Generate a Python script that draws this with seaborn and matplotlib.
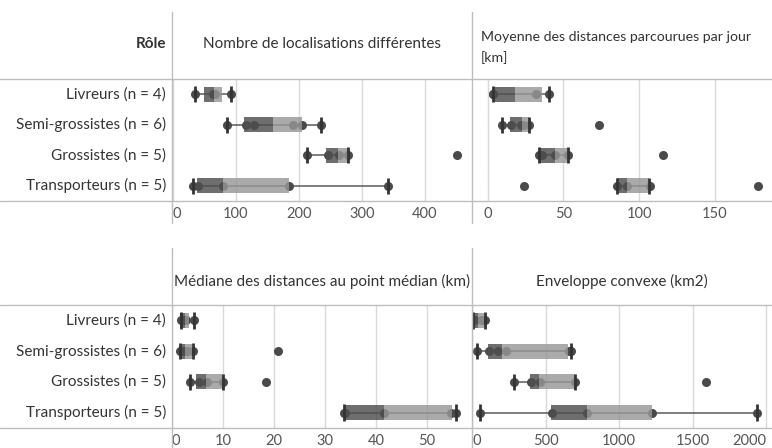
import numpy as np
import pandas as pd
import seaborn as sns
import matplotlib.pyplot as plt
import matplotlib.transforms as mtrans
from matplotlib.lines import Line2D

sns.set_theme(style="white")
plt.rcParams['font.family'] = ['Lato', 'DejaVu Sans']

# -------------------------------
# Data
# -------------------------------
roles = ["Livreurs (n = 4)", "Semi-grossistes (n = 6)", "Grossistes (n = 5)", "Transporteurs (n = 5)"]

# Nombre de localisations différentes
loc_points = [[35, 64, 67, 92], [86, 117, 129, 191, 205, 235], [213, 246, 264, 279, 451], [32, 41, 80, 184, 341]]
loc_lo = [35, 86, 213, 32]
loc_q1 = [50, 114, 243, 38]
loc_med = [66, 159, 263, 80]
loc_q3 = [79, 205, 278, 184]
loc_hi = [92, 235, 279, 341]

# Moyenne des distances parcourues par jour [km]
dist_points = [[3.4, 3.8, 32, 40.3], [9.5, 15.5, 22, 23.2, 27.6, 73.8], [34.2, 35.9, 44.3, 53.3, 116], [23.8, 85.7, 92.3, 107.3, 178.4]]
dist_lo = [3.4, 9.5, 34.2, 85.7]
dist_q1 = [3.6, 15, 34.8, 85.7]
dist_med = [17.9, 22.7, 44.3, 92.1]
dist_q3 = [35.9, 27.6, 53.1, 106.8]
dist_hi = [40.3, 27.6, 53.1, 106.8]

# Médiane des distances au point médian (km)
med_points = [[1.7, 2.3, 2.8, 4.3], [1.6, 1.8, 2.3, 2.9, 4.05, 20.7], [3.5, 5.2, 6.8, 10, 18.4], [33.7, 33.9, 41.6, 54.7, 55.7]]
med_lo = [1.7, 1.6, 3.5, 33.7]
med_q1 = [1.6, 1.6, 4.7, 33.7]
med_med = [2.55, 2.6, 6.7, 41.6]
med_q3 = [3.3, 4.0, 9.9, 54.8]
med_hi = [4.3, 4.05, 10, 55.7]

# Enveloppe convexe (km2)
hull_points = [[5, 16, 60, 86], [34, 113, 172, 229, 660, 675], [286, 400, 461, 700, 1593], [52, 541, 779, 1222, 1938]]
hull_lo = [5, 34, 286, 52]
hull_q1 = [7, 104, 393, 536]
hull_med = [38, 200, 457, 779]
hull_q3 = [80, 654, 700, 1222]
hull_hi = [86, 675, 700, 1938]

W, H = 772, 448
fig = plt.figure(figsize=(W / 100, H / 100), dpi=100)


def fx(px):
    return px / W


def fy(py):
    return 1 - py / H


def draw_panel(ax, points, lo, q1, med, q3, hi, xlim, ticks, zero_line=False, first_left=True, last_right=False):
    df = pd.DataFrame({
        'role': [roles[i] for i, p in enumerate(points) for _ in p],
        'value': [v for p in points for v in p],
    })
    ypos = np.arange(len(roles))
    ax.hlines(ypos, lo, hi, color='#5a5a5a', lw=1.1, zorder=1)
    sns.stripplot(data=df, x='value', y='role', order=roles, jitter=False,
                  color='#4a4a4a', size=6.5, linewidth=0, ax=ax, zorder=2)
    ax.barh(ypos, np.subtract(med, q1), left=q1, height=0.49, color='#4e4e4e', alpha=0.82,
            linewidth=0, zorder=3)
    ax.barh(ypos, np.subtract(q3, med), left=med, height=0.49, color='#979797', alpha=0.82,
            linewidth=0, zorder=3)
    ax.vlines(lo, ypos - 0.27, ypos + 0.27, color='#333333', lw=2, zorder=4)
    ax.vlines(hi, ypos - 0.27, ypos + 0.27, color='#333333', lw=2, zorder=4)
    if zero_line:
        ax.axvline(0, color='#999999', lw=0.8, ls=':', zorder=0.5)
    ax.set_xlim(*xlim)
    ax.set_ylim(3.5, -0.5)
    ax.set_yticks([])
    ax.set_xticks(ticks)
    ax.set_xticklabels([str(t) for t in ticks])
    labels = ax.get_xticklabels()
    if first_left:
        labels[0].set_ha('left')
    if last_right:
        labels[-1].set_ha('right')
        labels[-1].set_transform(labels[-1].get_transform() +
                                 mtrans.ScaledTranslation(5 / 100, 0, fig.dpi_scale_trans))
    ax.set_xlabel('')
    ax.set_ylabel('')
    ax.grid(axis='x', color='#d9d9d9', lw=1)
    ax.set_axisbelow(True)
    ax.tick_params(axis='x', length=0, pad=4, labelsize=10.5, labelcolor='#555555')
    for s in ax.spines.values():
        s.set_visible(False)
    ax.patch.set_alpha(0)


top_y0, top_y1 = 79, 201
bot_y0, bot_y1 = 305, 428
x_l, x_m, x_r = 172, 472, 772

ax1 = fig.add_axes([fx(x_l), fy(top_y1), fx(x_m - x_l), (top_y1 - top_y0) / H])
ax2 = fig.add_axes([fx(x_m), fy(top_y1), fx(x_r - x_m), (top_y1 - top_y0) / H])
ax3 = fig.add_axes([fx(x_l), fy(bot_y1), fx(x_m - x_l), (bot_y1 - bot_y0) / H])
ax4 = fig.add_axes([fx(x_m), fy(bot_y1), fx(x_r - x_m), (bot_y1 - bot_y0) / H])

draw_panel(ax1, loc_points, loc_lo, loc_q1, loc_med, loc_q3, loc_hi, (-1, 475), [0, 100, 200, 300, 400])
draw_panel(ax2, dist_points, dist_lo, dist_q1, dist_med, dist_q3, dist_hi, (-10.3, 187.8), [0, 50, 100, 150],
           zero_line=True, first_left=False)
draw_panel(ax3, med_points, med_lo, med_q1, med_med, med_q3, med_hi, (0, 58.8), [0, 10, 20, 30, 40, 50])
draw_panel(ax4, hull_points, hull_lo, hull_q1, hull_med, hull_q3, hull_hi, (-2, 2040), [0, 500, 1000, 1500, 2000],
           last_right=True)

# Table borders
line_col = '#bdbdbd'
for py in [top_y0, top_y1, bot_y0, bot_y1]:
    fig.add_artist(Line2D([0, 1], [fy(py), fy(py)], transform=fig.transFigure, color=line_col, lw=1))
for px in [x_l, x_m]:
    fig.add_artist(Line2D([fx(px), fx(px)], [fy(12), fy(223)], transform=fig.transFigure, color=line_col, lw=1))
    fig.add_artist(Line2D([fx(px), fx(px)], [fy(248), fy(448)], transform=fig.transFigure, color=line_col, lw=1))

# Header texts
txt = '#333333'
fs = 11
fig.text(fx(166), fy(44), 'Rôle', ha='right', va='center', fontsize=fs, fontweight='bold', color=txt)
fig.text(fx(322), fy(44), 'Nombre de localisations différentes', ha='center', va='center', fontsize=fs, color=txt)
fig.text(fx(481), fy(37), 'Moyenne des distances parcourues par jour', ha='left', va='center', fontsize=10.2, color=txt)
fig.text(fx(481), fy(58), '[km]', ha='left', va='center', fontsize=10.2, color=txt)
fig.text(fx(322), fy(281), 'Médiane des distances au point médian (km)', ha='center', va='center', fontsize=fs, color=txt)
fig.text(fx(622), fy(281), 'Enveloppe convexe (km2)', ha='center', va='center', fontsize=fs, color=txt)

# Row labels
for y0, y1 in [(top_y0, top_y1), (bot_y0, bot_y1)]:
    step = (y1 - y0) / len(roles)
    for i, r in enumerate(roles):
        fig.text(fx(166), fy(y0 + step * (i + 0.5)), r, ha='right', va='center', fontsize=fs, color=txt)

plt.savefig('out.png', dpi=100)
